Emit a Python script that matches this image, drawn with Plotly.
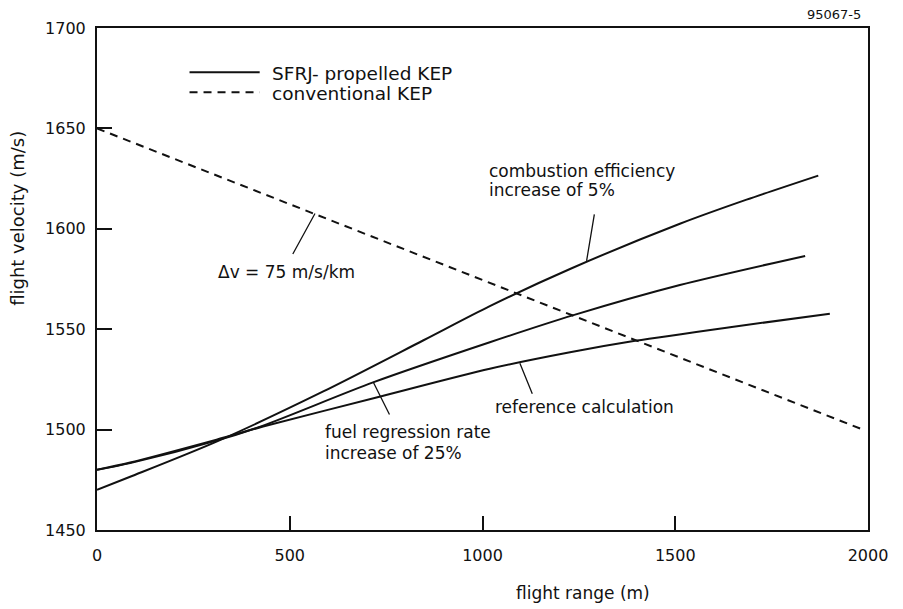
import plotly.graph_objects as go

# ---- data ----
conv_range = [0, 1980]
conv_velocity = [1650, 1500.5]

comb_range = [0, 86, 310, 587, 847, 1019, 1227, 1512, 1685, 1871]
comb_velocity = [1470, 1476.5, 1494, 1519, 1544.5, 1561.5, 1580, 1602.5, 1614.5, 1626.5]

regr_range = [0, 86, 310, 431, 716, 1019, 1236, 1512, 1837]
regr_velocity = [1480, 1483.3, 1494.5, 1502, 1523.5, 1543.5, 1557, 1572, 1586.5]

ref_range = [0, 86, 310, 431, 725, 1019, 1227, 1396, 1642, 1901]
ref_velocity = [1480, 1483.6, 1495, 1501.5, 1516, 1530.3, 1538.5, 1544.2, 1551, 1557.7]

x_ticks = [0, 500, 1000, 1500, 2000]
y_ticks = [1450, 1500, 1550, 1600, 1650, 1700]

FONT = "DejaVu Sans"
BLACK = "#111111"

fig = go.Figure()
fig.add_trace(go.Scatter(x=conv_range, y=conv_velocity, mode="lines",
                         line=dict(color=BLACK, width=2, dash="8px,6px"),
                         name="conventional KEP", showlegend=False))
for xs, ys in [(comb_range, comb_velocity), (regr_range, regr_velocity), (ref_range, ref_velocity)]:
    fig.add_trace(go.Scatter(x=xs, y=ys, mode="lines",
                             line=dict(color=BLACK, width=2, shape="spline", smoothing=0.8),
                             name="SFRJ- propelled KEP", showlegend=False))

annotations = []
def txt(x, y, s, size=17, xref="x", yref="y", xanchor="left", angle=0):
    annotations.append(dict(x=x, y=y, xref=xref, yref=yref, text=s, showarrow=False,
                            xanchor=xanchor, yanchor="middle", textangle=angle,
                            font=dict(family=FONT, size=size, color=BLACK)))

txt(1012, 1629.0, "combustion efficiency")
txt(1012, 1619.3, "increase of 5%")
txt(586, 1498.8, "fuel regression rate")
txt(586, 1488.3, "increase of 25%")
txt(1027, 1511.4, "reference calculation")
txt(309, 1578.5, "\u0394v = 75 m/s/km")

def leader(x, y, ax, ay):
    annotations.append(dict(x=x, y=y, xref="x", yref="y", text="", showarrow=True,
                            arrowhead=0, arrowwidth=1.3, arrowcolor=BLACK,
                            ax=ax, ay=ay, standoff=0, startstandoff=0))

leader(565.5, 1607.6, -23, 42)
leader(1270, 1584.0, 8, -48)
leader(716.5, 1523.7, 17, 34)
leader(1097, 1533.0, 13, 32)

txt(0.63, -0.125, "flight range (m)", xref="paper", yref="paper", xanchor="center")
txt(-0.103, 0.621, "flight velocity (m/s)", size=18, xref="paper", yref="paper",
    xanchor="center", angle=-90)
annotations.append(dict(x=0.994, y=1.026, xref="paper", yref="paper", text="95067-5",
                        showarrow=False, xanchor="right", yanchor="middle",
                        font=dict(family=FONT, size=13, color=BLACK)))
txt(0.224, 0.910, "SFRJ- propelled KEP", size=18.5, xref="paper", yref="paper")
txt(0.224, 0.870, "conventional KEP", size=18.5, xref="paper", yref="paper")

shapes = [
    dict(type="line", xref="paper", yref="paper", x0=0.12, x1=0.211, y0=0.912, y1=0.912,
         line=dict(color=BLACK, width=2)),
    dict(type="line", xref="paper", yref="paper", x0=0.12, x1=0.211, y0=0.872, y1=0.872,
         line=dict(color=BLACK, width=2, dash="8px,6px")),
]

fig.update_layout(
    width=903, height=609,
    margin=dict(l=97, r=35, t=28, b=79),
    paper_bgcolor="white", plot_bgcolor="white",
    annotations=annotations, shapes=shapes,
    showlegend=False,
    font=dict(family=FONT, color=BLACK),
)
fig.update_xaxes(range=[0, 2000], tickvals=x_ticks, ticktext=[str(v) for v in x_ticks],
                 showgrid=False, zeroline=False, showline=True, mirror=True,
                 linecolor=BLACK, linewidth=2, ticks="inside", ticklen=14, tickwidth=2,
                 tickcolor=BLACK, ticklabelstandoff=10,
                 tickfont=dict(family=FONT, size=16, color=BLACK))
fig.update_yaxes(range=[1450, 1700], tickvals=y_ticks, ticktext=[str(v) for v in y_ticks],
                 showgrid=False, zeroline=False, showline=True, mirror=True,
                 linecolor=BLACK, linewidth=2, ticks="inside", ticklen=15, tickwidth=2,
                 tickcolor=BLACK, ticklabelstandoff=6,
                 tickfont=dict(family=FONT, size=16, color=BLACK))

fig.write_html("out.html")
